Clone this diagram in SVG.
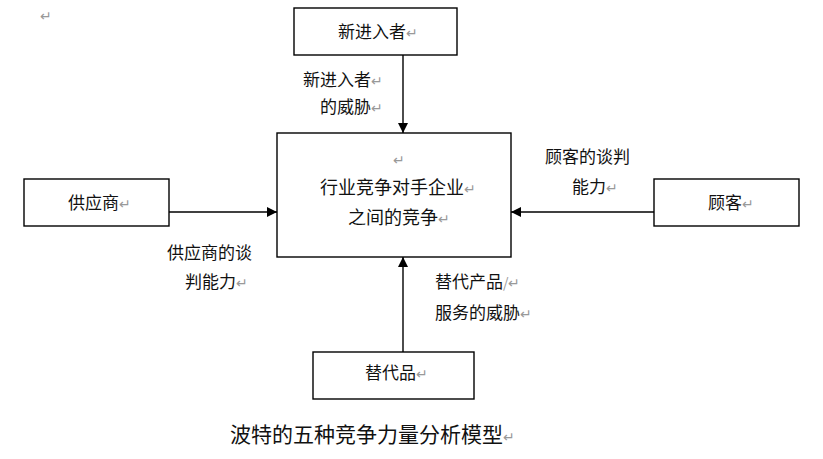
<svg xmlns="http://www.w3.org/2000/svg" width="823" height="459" viewBox="0 0 823 459">
<style>
.box{fill:#fff;stroke:#000;stroke-width:1.4}
.t{font-family:"Noto Sans CJK SC","Liberation Sans",sans-serif;font-size:17px;fill:#111}
.big{font-size:18px}
.title{font-size:21px}
.pm{fill:#999;font-size:14px}
.c{stroke:#000;stroke-width:1.4;fill:none}
</style>
<defs>
<marker id="ah" viewBox="0 0 10 10" refX="10" refY="5" markerWidth="10" markerHeight="10" markerUnits="userSpaceOnUse" orient="auto">
<path d="M0,0 L10,5 L0,10 Z" fill="#000"/>
</marker>
</defs>
<text class="t pm" x="40" y="21">↵</text>
<g id="connectors">
<line class="c" x1="403" y1="55" x2="403" y2="133" marker-end="url(#ah)"/>
<line class="c" x1="169" y1="212" x2="277" y2="212" marker-end="url(#ah)"/>
<line class="c" x1="654" y1="212" x2="511" y2="212" marker-end="url(#ah)"/>
<line class="c" x1="403" y1="352" x2="403" y2="257" marker-end="url(#ah)"/>
<text class="t" x="303" y="86">新进入者<tspan class="pm">↵</tspan></text>
<text class="t" x="320" y="113">的威胁<tspan class="pm">↵</tspan></text>
<text class="t" x="167" y="259">供应商的谈</text>
<text class="t" x="185" y="288">判能力<tspan class="pm">↵</tspan></text>
<text class="t" x="545" y="163">顾客的谈判</text>
<text class="t" x="572" y="193">能力<tspan class="pm">↵</tspan></text>
<text class="t" x="435" y="288">替代产品<tspan class="pm">/↵</tspan></text>
<text class="t" x="435" y="319">服务的威胁<tspan class="pm">↵</tspan></text>
</g>
<g id="new-entrants">
<rect class="box" x="294" y="8" width="163" height="47"/>
<text class="t" x="338" y="38">新进入者<tspan class="pm">↵</tspan></text>
</g>
<g id="industry">
<rect class="box" x="277" y="133" width="234" height="124"/>
<text class="t pm" x="393" y="165">↵</text>
<text class="t big" x="320" y="194">行业竞争对手企业<tspan class="pm">↵</tspan></text>
<text class="t big" x="348" y="224">之间的竞争<tspan class="pm">↵</tspan></text>
</g>
<g id="supplier">
<rect class="box" x="24" y="179" width="145" height="47"/>
<text class="t" x="68" y="209">供应商<tspan class="pm">↵</tspan></text>
</g>
<g id="customer">
<rect class="box" x="654" y="179" width="145" height="47"/>
<text class="t" x="708" y="209">顾客<tspan class="pm">↵</tspan></text>
</g>
<g id="substitute">
<rect class="box" x="313" y="352" width="161" height="47"/>
<text class="t" x="365" y="379">替代品<tspan class="pm">↵</tspan></text>
</g>
<text class="t title" x="230" y="442">波特的五种竞争力量分析模型<tspan class="pm">↵</tspan></text>
</svg>
